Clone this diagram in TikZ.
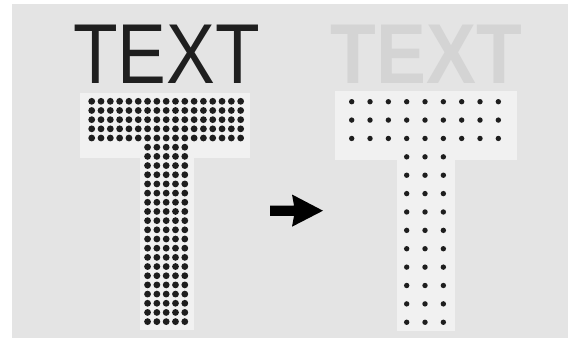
\documentclass[tikz,border=0pt]{standalone}
\usepackage{fontspec}
\setmainfont{Liberation Sans}
\definecolor{bggray}{HTML}{E4E4E4}
\definecolor{halo}{HTML}{F1F1F1}
\definecolor{dotcol}{HTML}{1E1E1E}
\definecolor{ghost}{HTML}{D4D4D4}
\tikzset{
  bigtext/.style={inner sep=0pt, anchor=base, font=\fontsize{85}{85}\selectfont},
  densedot/.style={fill=dotcol, draw=none},
  sparsedot/.style={fill=dotcol, draw=none},
  halobox/.style={fill=halo, draw=none},
  arrowshape/.style={fill=black, draw=none}
}
\begin{document}
\begin{tikzpicture}[x=1pt,y=-1pt]
\useasboundingbox (0,0) rectangle (579,343);
\fill[white] (0,0) rectangle (579,343);
\fill[bggray] (12,4) rectangle (568,338);
% halos behind the grids
\fill[halobox] (80,93) rectangle (250,158);
\fill[halobox] (140,150) rectangle (194,330);
\fill[halobox] (335,91) rectangle (517,160);
\fill[halobox] (397,150) rectangle (455,331);
% left text
\node[bigtext, xscale=0.86, text=black!88] (lefttext) at (166.5,83) {TEXT};
% right ghost text
\node[bigtext, xscale=0.88, text=ghost, font=\fontsize{85}{85}\selectfont\bfseries] (righttext) at (426.5,83) {TEXT};
% left dense grid: bar
\foreach \i in {0,...,16}{
  \foreach \j in {0,...,4}{
    \fill[densedot] (91.7+9.31*\i,101.3+9.18*\j) circle (3.4);
  }
}
% left dense grid: stem
\foreach \i in {6,...,10}{
  \foreach \j in {5,...,24}{
    \fill[densedot] (91.7+9.31*\i,101.3+9.18*\j) circle (3.4);
  }
}
% right sparse grid: bar
\foreach \i in {0,...,8}{
  \foreach \j in {0,...,2}{
    \fill[sparsedot] (351.7+18.33*\i,101.7+18.38*\j) circle (2.7);
  }
}
% right sparse grid: stem
\foreach \i in {3,...,5}{
  \foreach \j in {3,...,12}{
    \fill[sparsedot] (351.7+18.33*\i,101.7+18.38*\j) circle (2.7);
  }
}
% arrow
\fill[arrowshape] (270,205.5) -- (294,205.5) -- (292,194.5) -- (323,210.7)
  -- (292,226.7) -- (294,215.9) -- (270,215.9) -- cycle;
\end{tikzpicture}
\end{document}
